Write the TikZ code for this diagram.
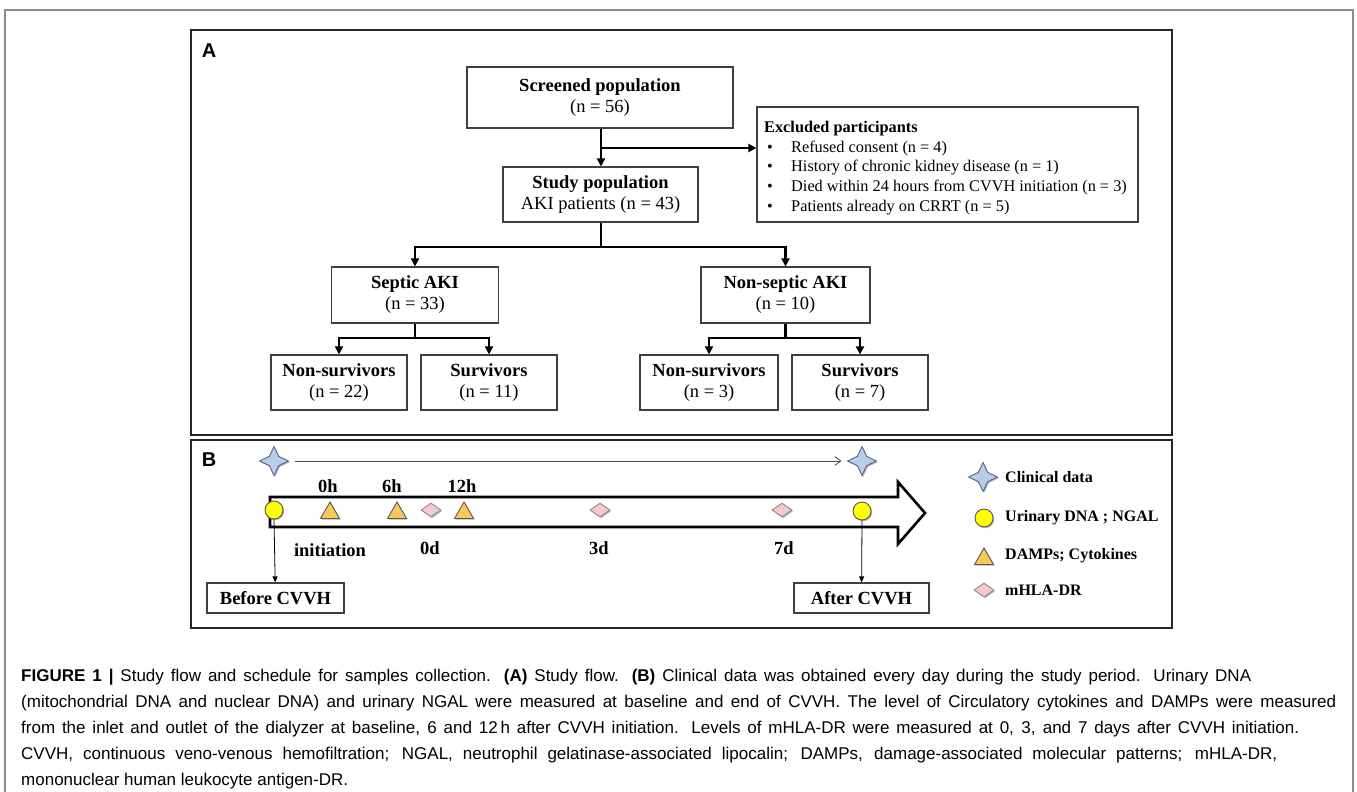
\documentclass[tikz,border=0pt]{standalone}
\usepackage{fontspec}
\setmainfont{Liberation Serif}
\newfontfamily\capfont{Liberation Sans}
\newfontfamily\panelfont{Liberation Sans}
\usetikzlibrary{arrows.meta,shapes.geometric,shadows}

\definecolor{starfill}{RGB}{185,205,228}
\definecolor{stardraw}{RGB}{85,105,135}
\definecolor{urinefill}{RGB}{255,255,0}
\definecolor{damfill}{RGB}{250,200,90}
\definecolor{hlafill}{RGB}{248,200,204}

\newcommand\exitem[1]{\hspace*{3pt}\makebox[24pt][l]{\textbullet}#1}

\begin{document}
\begin{tikzpicture}[x=1pt,y=-1pt,
  box/.style={draw=black!75,line width=1.2pt,fill=white,align=center,inner sep=0pt,
    font=\fontsize{18.5}{21}\selectfont},
  panel/.style={draw=black!85,line width=1.8pt},
  plabel/.style={font=\panelfont\fontsize{20}{22}\selectfont\bfseries},
  tree/.style={line width=2.8pt},
  flow/.style={tree,-{Triangle[length=8pt,width=8pt]}},
  thin/.style={line width=.8pt,-{Triangle[length=6pt,width=5pt]}},
  tlab/.style={font=\fontsize{18.5}{21}\selectfont\bfseries},
  legtxt/.style={anchor=west,inner sep=0pt,font=\fontsize{16}{19}\selectfont\bfseries},
  shade/.style={drop shadow={shadow xshift=1.2pt,shadow yshift=-1.2pt,opacity=.3,fill=black}},
  clin/.style={star,star points=4,star point ratio=2.2,minimum size=29pt,inner sep=0pt,
    fill=starfill,draw=stardraw,line width=.9pt,shade},
  urine/.style={circle,minimum size=18pt,inner sep=0pt,fill=urinefill,draw=black!65,line width=.9pt,shade},
  damp/.style={regular polygon,regular polygon sides=3,minimum size=22pt,inner sep=0pt,
    fill=damfill,draw=black!65,line width=.9pt,shade},
  hla/.style={diamond,minimum width=20pt,minimum height=14pt,inner sep=0pt,
    fill=hlafill,draw=black!45,line width=.9pt,shade},
  capline/.style={anchor=base west,inner sep=0pt,font=\capfont\fontsize{17}{20}\selectfont}]
  \useasboundingbox (0,0) rectangle (1357,792);
  \draw[black!45,line width=1.5pt] (5,792) -- (5,10) -- (1353,10) -- (1353,792);

  % panel A
  \draw[panel] (191,30) rectangle (1172,435);
  \node[plabel] (pa) at (209,51) {A};
  \node[box,minimum width=266pt,minimum height=61pt] (scr) at (600,97.5)
    {\textbf{Screened population}\\(n = 56)};
  \node[box,minimum width=195pt,minimum height=55pt] (stu) at (600.5,194.5)
    {\textbf{Study population}\\AKI patients (n = 43)};
  \node[box,minimum width=381pt,minimum height=115pt] (exc) at (947.5,164.5) {};
  \node[anchor=north west,inner sep=0pt,align=left,font=\fontsize{16.3}{19.7}\selectfont]
    (exctext) at (764,121)
    {\textbf{Excluded participants}\\
     \exitem{Refused consent (n = 4)}\\
     \exitem{History of chronic kidney disease (n = 1)}\\
     \exitem{Died within 24 hours from CVVH initiation (n = 3)}\\
     \exitem{Patients already on CRRT (n = 5)}};
  \node[box,minimum width=167pt,minimum height=56pt] (sep) at (415,295)
    {\textbf{Septic AKI}\\(n = 33)};
  \node[box,minimum width=169pt,minimum height=56pt] (nsep) at (785.5,295)
    {\textbf{Non-septic AKI}\\(n = 10)};
  \node[box,minimum width=136pt,minimum height=55pt] (nsl) at (339,382.5)
    {\textbf{Non-survivors}\\(n = 22)};
  \node[box,minimum width=136pt,minimum height=55pt] (sl) at (489,382.5)
    {\textbf{Survivors}\\(n = 11)};
  \node[box,minimum width=138pt,minimum height=55pt] (nsr) at (709,382.5)
    {\textbf{Non-survivors}\\(n = 3)};
  \node[box,minimum width=136pt,minimum height=55pt] (sr) at (860,382.5)
    {\textbf{Survivors}\\(n = 7)};
  \coordinate (j1) at (601,148);
  \coordinate (j2) at (601,247);
  \coordinate (j3) at (415,338);
  \coordinate (j4) at (785.5,338);
  \draw[flow] (scr.south -| j1) -- (stu.north -| j1);
  \draw[flow] (j1) -- (exc.west |- j1);
  \draw[tree] (stu.south -| j2) -- (j2);
  \draw[flow] (j2) -| (sep);
  \draw[flow] (j2) -| (nsep);
  \draw[tree] (sep) -- (j3);
  \draw[flow] (j3) -| (nsl);
  \draw[flow] (j3) -| (sl);
  \draw[tree] (nsep) -- (j4);
  \draw[flow] (j4) -| (nsr);
  \draw[flow] (j4) -| (sr);

  % panel B
  \draw[panel] (191,440) rectangle (1172,628);
  \node[plabel] (pb) at (209,460) {B};
  \draw[line width=2.6pt,fill=white] (270,497) -- (898,497) -- (898,482) -- (925,513)
    -- (898,544) -- (898,527) -- (270,527) -- cycle;
  \node[clin] (cs1) at (274,461) {};
  \node[clin] (cs2) at (862,461) {};
  \draw[black!70,line width=.8pt,-{Straight Barb[length=6pt,width=9pt]},
    shorten <=5pt,shorten >=5pt] (cs1.east) -- (cs2.west);
  \node[urine] (u1) at (274,510) {};
  \node[urine] (u2) at (862,511) {};
  \node[damp] (d1) at (330,513) {};
  \node[damp] (d2) at (397,513) {};
  \node[damp] (d3) at (464,513) {};
  \node[hla] (m1) at (431,510) {};
  \node[hla] (m2) at (600,510) {};
  \node[hla] (m3) at (782,510) {};
  \node[tlab] (t0) at (328,486) {0h};
  \node[tlab] (t6) at (392,486) {6h};
  \node[tlab] (t12) at (462,486) {12h};
  \node[tlab] (tin) at (330,550) {initiation};
  \node[tlab] (day0) at (430,548) {0d};
  \node[tlab] (day3) at (599,548) {3d};
  \node[tlab] (day7) at (784,548) {7d};
  \node[box,minimum width=137pt,minimum height=30pt] (bef) at (275.5,598) {\textbf{Before CVVH}};
  \node[box,minimum width=135pt,minimum height=30pt] (aft) at (861.5,598) {\textbf{After CVVH}};
  \draw[thin] (u1.south) -- (bef);
  \draw[thin] (u2.south) -- (aft);

  % legend
  \node[clin] (lg1) at (983,477) {};
  \node[urine] (lg2) at (984,518) {};
  \node[damp] (lg3) at (984,559) {};
  \node[hla] (lg4) at (984,590) {};
  \node[legtxt] (lt1) at (1005,477) {Clinical data};
  \node[legtxt] (lt2) at (1005,518) {Urinary DNA ; NGAL};
  \node[legtxt] (lt3) at (1005,556) {DAMPs; Cytokines};
  \node[legtxt] (lt4) at (1005,590) {mHLA-DR};

  % caption
  \node[capline] (c1) at (21,681) {\makebox[1230pt][s]{\textbf{FIGURE 1 |} Study flow and schedule for samples collection. \textbf{(A)} Study flow. \textbf{(B)} Clinical data was obtained every day during the study period. Urinary DNA}};
  \node[capline] (c2) at (21,707) {\makebox[1315pt][s]{(mitochondrial DNA and nuclear DNA) and urinary NGAL were measured at baseline and end of CVVH. The level of Circulatory cytokines and DAMPs were measured}};
  \node[capline] (c3) at (21,733) {\makebox[1278pt][s]{from the inlet and outlet of the dialyzer at baseline, 6 and 12\,h after CVVH initiation. Levels of mHLA-DR were measured at 0, 3, and 7 days after CVVH initiation.}};
  \node[capline] (c4) at (21,759) {\makebox[1256pt][s]{CVVH, continuous veno-venous hemofiltration; NGAL, neutrophil gelatinase-associated lipocalin; DAMPs, damage-associated molecular patterns; mHLA-DR,}};
  \node[capline] (c5) at (21,785) {mononuclear human leukocyte antigen-DR.};
\end{tikzpicture}
\end{document}
